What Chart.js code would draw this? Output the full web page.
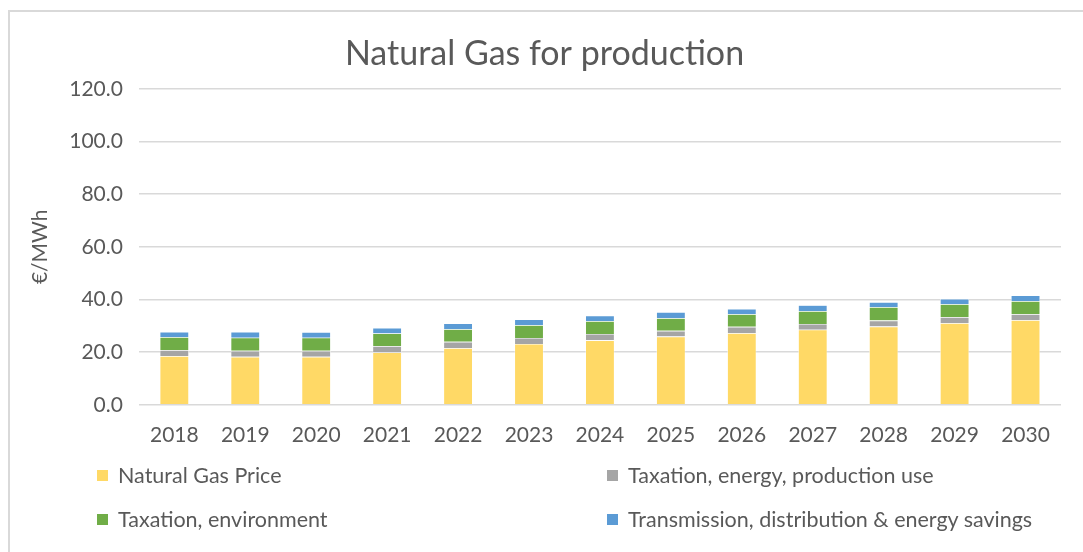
<!DOCTYPE html>
<html lang="en">
<head>
    <meta charset="UTF-8">
    <title>Natural Gas for production</title>
    <script src="https://cdn.jsdelivr.net/npm/chart.js"></script>
    <style>
        body { margin: 0; background: #fff; font-family: Lato, "Open Sans", sans-serif; overflow: hidden; }
        .frame {
            position: absolute; left: 8px; top: 10px; width: 1100px; height: 600px;
            border: 2px solid #d9d9d9; box-sizing: border-box;
        }
        .wrap { position: absolute; left: 0; top: 0; width: 1083px; height: 460px; }
        .legend { position: absolute; left: 0; top: 0; width: 1083px; height: 552px; pointer-events: none; }
        .item { position: absolute; font-size: 21.5px; color: #595959; white-space: nowrap; line-height: 24px; }
        .item span.box { display: inline-block; width: 11px; height: 11px; margin-right: 10px; vertical-align: 2px; }
    </style>
</head>
<body>
    <div class="frame"></div>
    <div class="wrap"><canvas id="gasChart"></canvas></div>
    <div class="legend" id="legend"></div>

    <script>
        const years = ['2018', '2019', '2020', '2021', '2022', '2023', '2024', '2025', '2026', '2027', '2028', '2029', '2030'];

        // €/MWh
        const gasPrice     = [18.5, 18.2, 18.2, 19.9, 21.5, 23.1, 24.5, 25.9, 27.2, 28.5, 29.7, 31.0, 32.1];
        const taxEnergy    = [2.3, 2.3, 2.3, 2.4, 2.4, 2.3, 2.4, 2.2, 2.4, 2.2, 2.3, 2.3, 2.3];
        const taxEnv       = [4.9, 5.0, 5.0, 4.8, 4.8, 4.8, 4.9, 4.8, 4.8, 4.9, 5.1, 4.9, 5.0];
        const transmission = [2.0, 2.2, 2.1, 2.1, 2.2, 2.2, 2.1, 2.3, 2.0, 2.2, 1.9, 2.0, 2.1];

        const seriesNames = ['Natural Gas Price', 'Taxation, energy, production use', 'Taxation, environment', 'Transmission, distribution & energy savings'];
        const seriesColors = ['#FFD966', '#A5A5A5', '#70AD47', '#5B9BD5'];
        const seriesData = [gasPrice, taxEnergy, taxEnv, transmission];

        const textColor = '#595959';
        const font = 'Lato, "Open Sans", sans-serif';

        const ctx = document.getElementById('gasChart').getContext('2d');
        new Chart(ctx, {
            type: 'bar',
            data: {
                labels: years,
                datasets: seriesData.map((d, i) => ({
                    label: seriesNames[i],
                    data: d,
                    backgroundColor: seriesColors[i],
                    borderColor: '#ffffff',
                    borderWidth: 0.6,
                    categoryPercentage: 1,
                    barPercentage: 0.41
                }))
            },
            options: {
                responsive: true,
                maintainAspectRatio: false,
                animation: false,
                layout: { padding: { left: 28, right: 22, top: 34, bottom: 2 } },
                plugins: {
                    legend: { display: false },
                    tooltip: { enabled: false },
                    title: {
                        display: true,
                        text: 'Natural Gas for production',
                        color: textColor,
                        font: { family: font, size: 34, weight: 'normal' },
                        padding: { top: 0, bottom: 14 }
                    }
                },
                scales: {
                    x: {
                        stacked: true,
                        grid: { display: false },
                        border: { display: false },
                        ticks: { color: textColor, font: { family: font, size: 21 }, padding: 10 }
                    },
                    y: {
                        stacked: true,
                        min: 0,
                        max: 120,
                        ticks: {
                            stepSize: 20,
                            color: textColor,
                            font: { family: font, size: 21 },
                            padding: 16,
                            callback: v => v.toFixed(1)
                        },
                        grid: { color: '#d9d9d9', lineWidth: 1.5, drawTicks: false },
                        border: { display: false },
                        title: {
                            display: true,
                            text: '€/MWh',
                            color: textColor,
                            font: { family: font, size: 21 },
                            padding: { top: 0, bottom: 0 }
                        }
                    }
                }
            }
        });

        // two-column legend under the plot
        const legendPos = [[97, 463], [607, 463], [97, 507], [607, 507]];
        const legend = document.getElementById('legend');
        seriesNames.forEach((name, i) => {
            const el = document.createElement('div');
            el.className = 'item';
            el.style.left = legendPos[i][0] + 'px';
            el.style.top = legendPos[i][1] + 'px';
            el.innerHTML = '<span class="box" style="background:' + seriesColors[i] + '"></span>' + name;
            legend.appendChild(el);
        });
    </script>
</body>
</html>
